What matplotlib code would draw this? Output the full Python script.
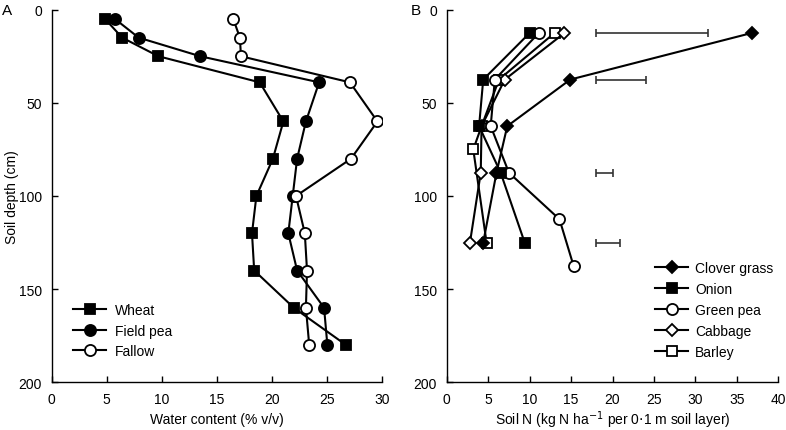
import numpy as np
import matplotlib
matplotlib.use('Agg')
import matplotlib.pyplot as plt
from matplotlib.lines import Line2D

plt.rcParams['font.family'] = ['Liberation Sans', 'DejaVu Sans']
plt.rcParams['font.size'] = 10

# Panel A: water content (% v/v) by soil depth (cm)
depth_a = [5, 15, 25, 39, 60, 80, 100, 120, 140, 160, 180]
wheat = [4.85, 6.4, 9.7, 18.9, 21.05, 20.1, 18.6, 18.2, 18.4, 22.0, 26.75]
field_pea = [5.75, 7.9, 13.5, 24.3, 23.1, 22.3, 21.9, 21.5, 22.3, 24.75, 25.05]
fallow = [16.5, 17.1, 17.2, 27.1, 29.6, 27.2, 22.2, 23.0, 23.2, 23.1, 23.4]

# Panel B: soil N (kg N/ha per 0.1 m layer) by soil depth (cm)
clover_depth = [12.5, 37.5, 62.5, 87.5, 125]
clover = [36.8, 14.9, 7.3, 6.0, 4.4]
onion_depth = [12.5, 37.5, 62.5, 87.5, 125]
onion = [10.0, 4.4, 3.9, 6.5, 9.4]
pea_depth = [12.5, 37.5, 62.5, 87.5, 112.5, 137.5]
green_pea = [11.1, 5.8, 5.3, 7.5, 13.6, 15.3]
cabbage_depth = [12.5, 37.5, 62.5, 87.5, 125]
cabbage = [14.2, 7.0, 4.2, 4.1, 2.8]
barley_depth = [12.5, 37.5, 62.5, 75, 125]
barley = [13.0, 6.3, 4.2, 3.2, 4.8]

# LSD bars
lsd_depth = [12.5, 37.5, 87.5, 125]
lsd_start = [18.05, 18.05, 18.05, 18.05]
lsd_end = [31.5, 24.0, 20.05, 20.95]

fig = plt.figure(figsize=(7.86, 4.31), dpi=100)
axA = fig.add_axes([0.0658, 0.1107, 0.42, 0.8645])
axB = fig.add_axes([0.5684, 0.1107, 0.4218, 0.8645])

lw = 1.5
ms = 7.5
kw = dict(color='black', lw=lw, markeredgewidth=1.3, markeredgecolor='black')

axA.plot(wheat, depth_a, marker='s', markersize=ms, markerfacecolor='black', label='Wheat', **kw)
axA.plot(field_pea, depth_a, marker='o', markersize=ms + 0.5, markerfacecolor='black', label='Field pea', **kw)
axA.plot(fallow, depth_a, marker='o', markersize=ms + 0.5, markerfacecolor='white', label='Fallow', **kw)

axB.plot(barley, barley_depth, marker='s', markersize=ms, markerfacecolor='white', **kw)
axB.plot(cabbage, cabbage_depth, marker='D', markersize=ms - 1.5, markerfacecolor='white', **kw)
axB.plot(green_pea, pea_depth, marker='o', markersize=ms + 0.5, markerfacecolor='white', **kw)
axB.plot(onion, onion_depth, marker='s', markersize=ms, markerfacecolor='black', **kw)
axB.plot(clover, clover_depth, marker='D', markersize=ms - 1.5, markerfacecolor='black', **kw)

for y, x0, x1 in zip(lsd_depth, lsd_start, lsd_end):
    axB.errorbar([(x0 + x1) / 2], [y], xerr=[(x1 - x0) / 2], fmt='none',
                 ecolor='#333333', elinewidth=1.2, capsize=3, capthick=1.2)

# legend B order
hB = [
    Line2D([], [], marker='D', markersize=ms - 1.5, markerfacecolor='black', **kw),
    Line2D([], [], marker='s', markersize=ms, markerfacecolor='black', **kw),
    Line2D([], [], marker='o', markersize=ms + 0.5, markerfacecolor='white', **kw),
    Line2D([], [], marker='D', markersize=ms - 1.5, markerfacecolor='white', **kw),
    Line2D([], [], marker='s', markersize=ms, markerfacecolor='white', **kw),
]
labB = ['Clover grass', 'Onion', 'Green pea', 'Cabbage', 'Barley']

for ax, xmax, step in [(axA, 30, 5), (axB, 40, 5)]:
    ax.set_xlim(0, xmax)
    ax.set_ylim(200, 0)
    ax.set_xticks(np.arange(0, xmax + 1, step))
    ax.set_yticks(np.arange(0, 201, 50))
    ax.spines['top'].set_visible(False)
    ax.spines['right'].set_visible(False)
    ax.spines['left'].set_linewidth(1.0)
    ax.spines['bottom'].set_linewidth(1.0)
    ax.tick_params(direction='in', length=4, width=1.0, labelsize=10)
    ax.tick_params(axis='x', pad=7)
    ax.tick_params(axis='y', pad=7)

axA.set_xlabel('Water content (% v/v)', fontsize=10, labelpad=4)
axA.set_ylabel('Soil depth (cm)', fontsize=10, labelpad=0)
axB.set_xlabel('Soil N (kg N ha$^{-1}$ per 0$\\cdot$1 m soil layer)', fontsize=10, labelpad=2)

axA.legend(loc='upper left', bbox_to_anchor=(0.064, 0.212), frameon=False, fontsize=10,
           handlelength=2.4, handletextpad=0.6, labelspacing=0.45, borderaxespad=0, borderpad=0)
axB.legend(hB, labB, loc='upper left', bbox_to_anchor=(0.628, 0.326), frameon=False, fontsize=10,
           handlelength=2.4, handletextpad=0.5, labelspacing=0.5, borderaxespad=0, borderpad=0)

fig.text(0.003, 0.975, 'A', fontsize=11, va='center', ha='left')
fig.text(0.523, 0.975, 'B', fontsize=11, va='center', ha='left')

fig.savefig('out.png', dpi=100)
